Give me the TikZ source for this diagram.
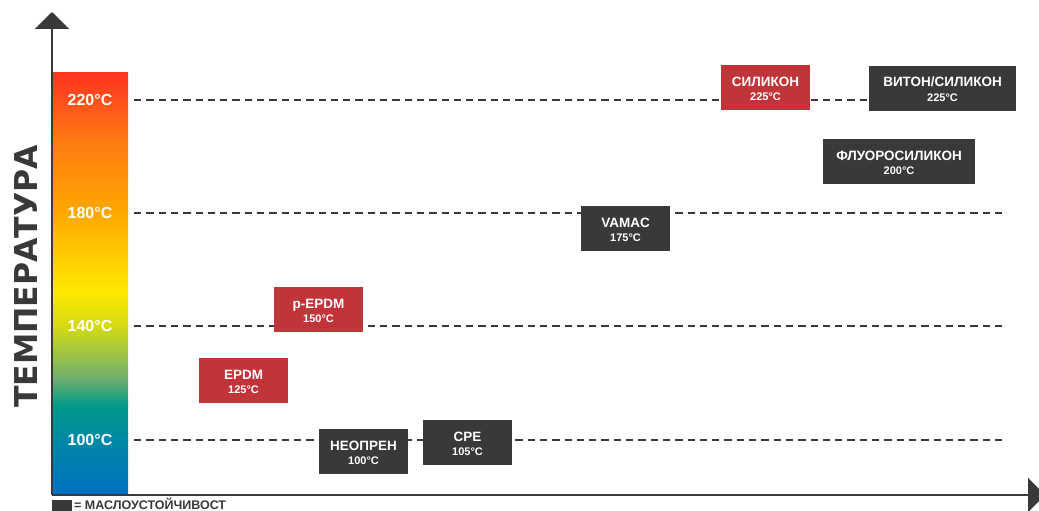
\documentclass[tikz,border=0pt]{standalone}
\usepackage{fontspec}
\setmainfont{Liberation Sans}
\newfontfamily\heavyfont{DejaVu Sans}
\usetikzlibrary{arrows.meta,calc}
\definecolor{dk}{HTML}{3A3839}
\definecolor{rd}{HTML}{C0343A}
\definecolor{g1}{HTML}{FF3322}
\definecolor{g2}{HTML}{FF7A12}
\definecolor{g3}{HTML}{FFA800}
\definecolor{g4}{HTML}{FFE800}
\definecolor{g5}{HTML}{D4DA14}
\definecolor{g6}{HTML}{6AAE72}
\definecolor{g7}{HTML}{009A88}
\definecolor{g8}{HTML}{0088A6}
\definecolor{g9}{HTML}{0070C0}
\tikzset{
  axisline/.style={draw=dk, line width=2.5pt, -{Triangle[length=17pt,width=34pt]}},
  dline/.style={draw=dk, line width=2pt, dash pattern=on 7.3pt off 5pt},
  mbox/.style={inner sep=0pt, minimum height=45pt},
  mtitle/.style={anchor=base, inner sep=0pt, text=white, font=\bfseries\fontsize{13.5}{14}\selectfont},
  mtemp/.style={anchor=base, inner sep=0pt, text=white, font=\bfseries\fontsize{11}{12}\selectfont},
  tlabel/.style={inner sep=0pt, text=white, font=\bfseries\fontsize{16}{18}\selectfont},
}
\newcommand\matbox[7]{%
  \node[mbox, fill=#5, minimum width=#4] (#1) at (#2,#3) {};
  \node[mtitle] (#1t) at ($(#1.center)+(0,-1.5)$) {#6};
  \node[mtemp] (#1c) at ($(#1.center)+(0,12.5)$) {#7};
}
\begin{document}
\begin{tikzpicture}[x=1pt,y=-1pt]
\useasboundingbox (0,0) rectangle (1039,511);
% gradient bar
\shade[top color=g1, bottom color=g2] (53,73) rectangle (128,140.5);
\shade[top color=g2, bottom color=g3] (53,140) rectangle (128,213.5);
\shade[top color=g3, bottom color=g4] (53,213) rectangle (128,290.5);
\shade[top color=g4, bottom color=g5] (53,290) rectangle (128,326.5);
\shade[top color=g5, bottom color=g6] (53,326) rectangle (128,380.5);
\shade[top color=g6, bottom color=g7] (53,380) rectangle (128,405.5);
\shade[top color=g7, bottom color=g8] (53,405) rectangle (128,440.5);
\shade[top color=g8, bottom color=g9] (53,440) rectangle (128,495);
% axes
\coordinate (O) at (52,495);
\coordinate (ytop) at (52,12);
\coordinate (xend) at (1045,495);
\draw[axisline] (O) -- (ytop);
\draw[axisline] (O) -- (xend);
% temperature labels
\node[tlabel] (t220) at (90,100) {220°C};
\node[tlabel] (t180) at (90,213) {180°C};
\node[tlabel] (t140) at (90,326) {140°C};
\node[tlabel] (t100) at (90,440) {100°C};
% dashed lines
\coordinate (l220a) at (134,100); \coordinate (l220b) at (1003,100);
\coordinate (l180a) at (134,213); \coordinate (l180b) at (1003,213);
\coordinate (l140a) at (134,326); \coordinate (l140b) at (1003,326);
\coordinate (l100a) at (134,440); \coordinate (l100b) at (1003,440);
\draw[dline] (l220a) -- (l220b);
\draw[dline] (l180a) -- (l180b);
\draw[dline] (l140a) -- (l140b);
\draw[dline] (l100a) -- (l100b);
% material boxes
\matbox{sil}{765.5}{87.5}{89pt}{rd}{СИЛИКОН}{225°C}
\matbox{vit}{942.5}{88.5}{147pt}{dk}{ВИТОН/СИЛИКОН}{225°C}
\matbox{flu}{899}{161.5}{152pt}{dk}{ФЛУОРОСИЛИКОН}{200°C}
\matbox{vam}{625.5}{228.5}{89pt}{dk}{VAMAC}{175°C}
\matbox{pep}{318.5}{309.5}{89pt}{rd}{p-EPDM}{150°C}
\matbox{epd}{243.5}{380.5}{89pt}{rd}{EPDM}{125°C}
\matbox{neo}{363.5}{451.5}{89pt}{dk}{НЕОПРЕН}{100°C}
\matbox{cpe}{467.5}{442.5}{89pt}{dk}{CPE}{105°C}
% axis title
\node[rotate=90, anchor=base, inner sep=0pt, text=dk, font=\heavyfont\bfseries\fontsize{31.5}{34}\selectfont] (ytitle) at (37,276.5) {ТЕМПЕРАТУРА};
% legend
\node[fill=dk, minimum width=20pt, minimum height=12pt, inner sep=0pt, anchor=north west] (legsw) at (52,500) {};
\node[anchor=base west, inner sep=0pt, text=dk, font=\bfseries\fontsize{12.5}{13}\selectfont] (legtxt) at (74,509.5) {= МАСЛОУСТОЙЧИВОСТ};
\end{tikzpicture}
\end{document}
